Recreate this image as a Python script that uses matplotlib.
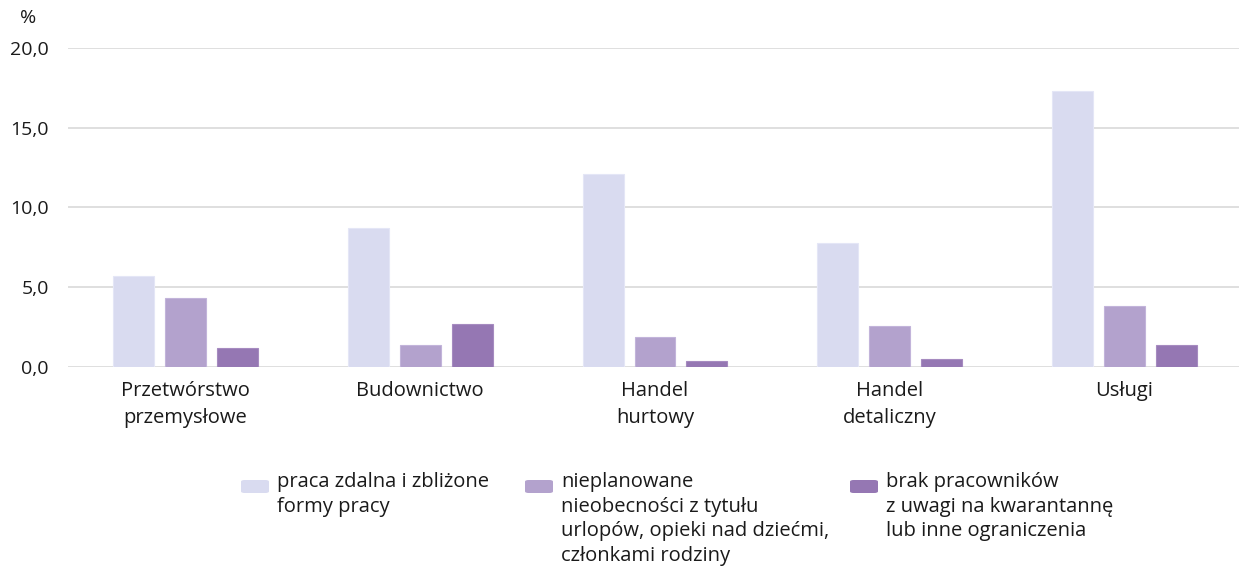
import matplotlib.pyplot as plt
from matplotlib.patches import FancyBboxPatch
import numpy as np

plt.rcParams['font.family'] = ['Open Sans', 'DejaVu Sans']

categories = ['Przetwórstwo\nprzemysłowe', 'Budownictwo', 'Handel\nhurtowy', 'Handel\ndetaliczny', 'Usługi']
remote_work = [5.7, 8.7, 12.1, 7.8, 17.3]
absences = [4.3, 1.4, 1.9, 2.6, 3.8]
quarantine = [1.2, 2.7, 0.4, 0.5, 1.4]
series_labels = ['praca zdalna i zbliżone\nformy pracy',
                 'nieplanowane\nnieobecności z tytułu\nurlopów, opieki nad dziećmi,\nczłonkami rodziny',
                 'brak pracowników\nz uwagi na kwarantannę\nlub inne ograniczenia']
yticks = [0, 5, 10, 15, 20]

colors = ['#d9dbf0', '#b3a2cd', '#9577b3']
edges = ['#e4e6f6', '#c2b4da', '#a68bc0']
text_color = '#1a1a1a'

fig = plt.figure(figsize=(12.39, 5.70), dpi=100)
ax = fig.add_axes([0.055, 0.356, 0.9473, 0.56])

x = np.arange(len(categories))
pitch = 0.221
width = 0.174
for i, (vals, c, e) in enumerate(zip([remote_work, absences, quarantine], colors, edges)):
    ax.bar(x + (i - 1) * pitch, vals, width, color=c, edgecolor=e, linewidth=0.8, zorder=3)

ax.set_xlim(-0.5, 4.5)
ax.set_ylim(0, 20)
ax.set_yticks(yticks)
ax.set_yticklabels([f'{v:.1f}'.replace('.', ',') for v in yticks], fontsize=14, color=text_color)
ax.set_xticks(x)
ax.set_xticklabels(categories, fontsize=14.5, color=text_color, linespacing=1.45)
ax.tick_params(axis='both', length=0)
ax.tick_params(axis='x', pad=10)
ax.tick_params(axis='y', pad=14)
ax.grid(axis='y', color='#d9d9d9', linewidth=1.2, zorder=0)
for s in ax.spines.values():
    s.set_visible(False)

fig.text(28 / 1239, 1 - 18 / 570, '%', fontsize=14, ha='center', va='center', color=text_color)

# legend drawn by hand, three columns
handle_x = [241, 525, 850]
for hx, c, lab in zip(handle_x, colors, series_labels):
    fig.patches.append(FancyBboxPatch((hx / 1239, 1 - 493 / 570), 28 / 1239, 13 / 570,
                                      boxstyle='round,pad=0,rounding_size=0.003',
                                      transform=fig.transFigure, facecolor=c, edgecolor='none'))
    fig.text((hx + 36) / 1239, 1 - 472 / 570, lab, fontsize=14.5, ha='left', va='top',
             color=text_color, linespacing=1.31)

fig.savefig('out.png', dpi=100)
